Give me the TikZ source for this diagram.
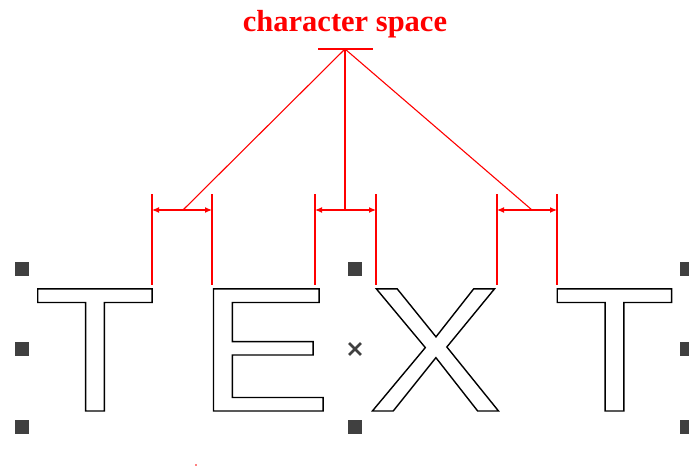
\documentclass[tikz,border=0pt]{standalone}
\usepackage{fontspec}
\usepackage{xcolor}
\usepackage{tikz}
\usetikzlibrary{arrows.meta,shapes.misc}
\setmainfont{Liberation Serif}
\newfontfamily\glyphfont[FakeStretch=1.14]{Liberation Sans}
\definecolor{dimred}{HTML}{FF0000}
\definecolor{grip}{HTML}{404040}
\newcommand{\hollow}[1]{\special{pdf:literal direct 1 Tr 1.4 w}#1\special{pdf:literal direct 0 Tr}}

\begin{document}
\begin{tikzpicture}[
  x=1pt,y=-1pt,
  letter/.style={inner sep=0pt,anchor=base,text=black,
                 font=\glyphfont\fontsize{177.4}{180}\selectfont},
  handle/.style={rectangle,fill=grip,inner sep=0pt,minimum size=13.5pt},
  ext/.style={draw=dimred,line width=1.2pt},
  dim/.style={{Latex[length=7pt,width=6pt]}-{Latex[length=7pt,width=6pt]},draw=dimred,line width=1.2pt},
  leader/.style={draw=dimred,line width=1.1pt}
]
\useasboundingbox (0,0) rectangle (689,471);

\node[text=dimred,font=\fontsize{30.5}{32}\selectfont\bfseries,anchor=base] (title) at (345,31.7) {character space};

\node[letter] (t1) at (95,411) {\hollow{T}};
\node[letter] (e) at (264.4,411) {\hollow{E}};
\node[letter] (x) at (435.3,411) {\hollow{X}};
\node[letter] (t2) at (614.5,411) {\hollow{T}};

\foreach \n/\x in {a/22,b/355,c/687}{
  \node[handle] (top\n) at (\x,269) {};
  \node[handle] (bot\n) at (\x,427) {};
}
\node[handle] (mida) at (22,349) {};
\node[handle] (midc) at (687,349) {};
\node[cross out,draw=grip,line width=2.8pt,minimum size=9pt,inner sep=0pt] (midb) at (355,349) {};

\foreach \n/\x in {p/152,q/212,r/315,s/376,u/497,v/557}{
  \coordinate (up\n) at (\x,194);
  \coordinate (foot\n) at (\x,284.5);
  \coordinate (dim\n) at (\x,210);
  \draw[ext] (up\n) -- (foot\n);
}
\draw[dim] (dimp) -- (dimq);
\draw[dim] (dimr) -- (dims);
\draw[dim] (dimu) -- (dimv);

\coordinate (apex) at (345,49);
\coordinate (barL) at (318,49);
\coordinate (barR) at (373,49);
\coordinate (gapL) at (183,210);
\coordinate (gapM) at (345,210);
\coordinate (gapR) at (532,210);
\draw[leader] (barL) -- (barR);
\foreach \g in {gapL,gapM,gapR}{\draw[leader] (apex) -- (\g);}

\fill[dimred] (196,465) circle (0.8);
\end{tikzpicture}
\end{document}
